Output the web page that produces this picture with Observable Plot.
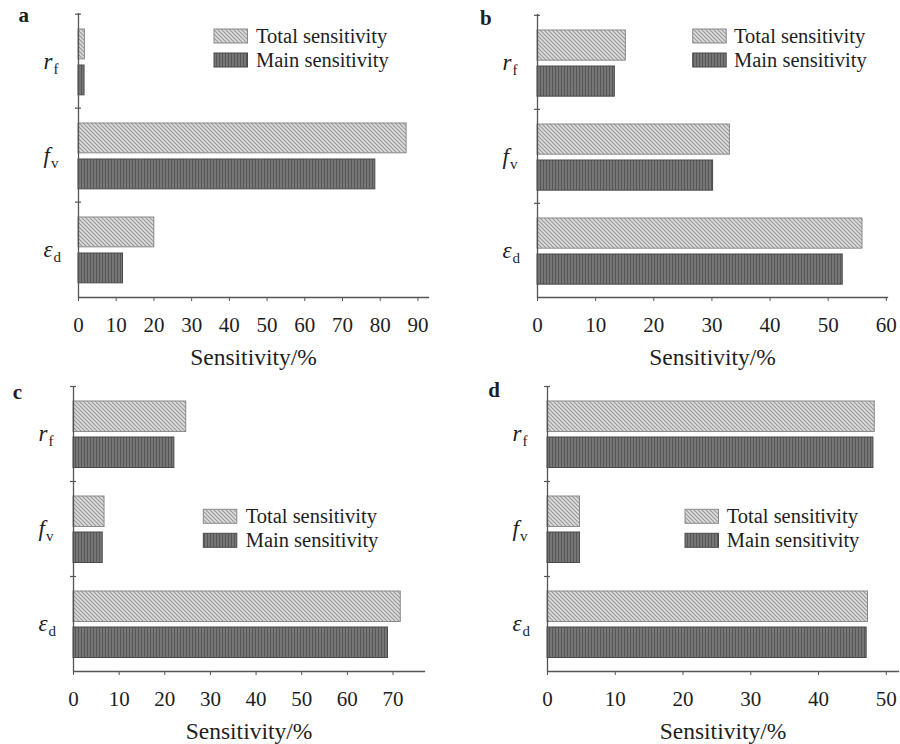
<!DOCTYPE html>
<html><head><meta charset="utf-8">
<script src="https://cdn.jsdelivr.net/npm/d3@7"></script>
<script src="https://cdn.jsdelivr.net/npm/@observablehq/plot@0.6"></script>
<style>
body{margin:0;background:#fff;}
#wrap{position:relative;width:900px;height:744px;overflow:hidden;background:#fff;}
.panel{position:absolute;}
#overlay{position:absolute;left:0;top:0;pointer-events:none;}
</style></head><body>
<svg width="0" height="0" style="position:absolute">
<defs>
<pattern id="pTotal" patternUnits="userSpaceOnUse" width="4" height="4">
<rect width="4" height="4" fill="#dcdcdc"/>
<path d="M-1,-1 L5,5 M-1,3 L1,5 M3,-1 L5,1" stroke="#989898" stroke-width="1.1"/>
</pattern>
<pattern id="pMain" patternUnits="userSpaceOnUse" width="3" height="3">
<rect width="3" height="3" fill="#767676"/>
<rect x="0" y="0" width="1" height="3" fill="#575757"/>
</pattern>
</defs></svg>
<div id="wrap"></div>
<script>
// ---- data ----
const categories = ["rf", "fv", "εd"];
const catSymbol = ["r", "f", "ε"];
const catSub = ["f", "v", "d"];
const seriesNames = ["Total sensitivity", "Main sensitivity"];
const panelLetters = ["a", "b", "c", "d"];
const axisTitle = "Sensitivity/%";

const totalA = [1.7, 87.0, 20.1];
const mainA  = [1.6, 78.7, 11.8];
const totalB = [15.2, 33.1, 55.9];
const mainB  = [13.3, 30.2, 52.5];
const totalC = [24.7, 6.8, 71.7];
const mainC  = [22.1, 6.4, 68.9];
const totalD = [48.3, 4.8, 47.3];
const mainD  = [48.1, 4.8, 47.1];

const ticksA = [0, 10, 20, 30, 40, 50, 60, 70, 80, 90];
const ticksB = [0, 10, 20, 30, 40, 50, 60];
const ticksC = [0, 10, 20, 30, 40, 50, 60, 70];
const ticksD = [0, 10, 20, 30, 40, 50];

// ---- layout ----
const panels = [
  {total: totalA, main: mainA, ticks: ticksA, xMax: 92.8, left: 0, top: 0, width: 450, height: 370, ml: 78, mr: 22, mt: 13, mb: 73,
   legend: {x: 214, y: 29, tx: 256}, letter: {x: 18.5, y: 22}},
  {total: totalB, main: mainB, ticks: ticksB, xMax: 60.2, left: 450, top: 0, width: 450, height: 370, ml: 87, mr: 13, mt: 14, mb: 73,
   legend: {x: 692.7, y: 29, tx: 734}, letter: {x: 480, y: 25}},
  {total: totalC, main: mainC, ticks: ticksC, xMax: 76.9, left: 0, top: 370, width: 450, height: 374, ml: 73, mr: 26, mt: 16, mb: 73,
   legend: {x: 203.3, y: 509.3, tx: 245.7}, letter: {x: 12.7, y: 399}},
  {total: totalD, main: mainD, ticks: ticksD, xMax: 51.8, left: 450, top: 370, width: 450, height: 374, ml: 97, mr: 2, mt: 16, mb: 73,
   legend: {x: 685, y: 509.3, tx: 726.7}, letter: {x: 488.3, y: 396.5}}
];

const font = "'Liberation Serif', 'Times New Roman', serif";
const wrap = document.getElementById("wrap");

panels.forEach((P) => {
  const bw = (P.height - P.mt - P.mb) / categories.length;
  const totalRows = categories.map((c, i) => ({cat: c, v: P.total[i]}));
  const mainRows = categories.map((c, i) => ({cat: c, v: P.main[i]}));
  const svg = Plot.plot({
    width: P.width, height: P.height,
    marginLeft: P.ml, marginRight: P.mr, marginTop: P.mt, marginBottom: P.mb,
    style: {fontFamily: font, fontSize: "21px", color: "#1e1e1e", background: "transparent"},
    x: {domain: [0, P.xMax]},
    y: {domain: categories, padding: 0},
    marks: [
      Plot.barX(totalRows, {x: "v", y: "cat", fill: "url(#pTotal)", stroke: "#8a8a8a", strokeWidth: 1,
        insetTop: 15, insetBottom: bw - 45.5}),
      Plot.barX(mainRows, {x: "v", y: "cat", fill: "url(#pMain)", stroke: "#4a4a4a", strokeWidth: 1,
        insetTop: 51, insetBottom: bw - 81.5}),
      Plot.ruleX([0], {stroke: "#555", strokeWidth: 1.3}),
      Plot.ruleY(categories, {y: (d) => d, x1: 0, x2: 0, dy: -bw / 2, insetLeft: -3, insetRight: -3, stroke: "#555", strokeWidth: 1.2}),
      Plot.frame({anchor: "bottom", stroke: "#555", strokeWidth: 1.3}),
      Plot.axisX({ticks: P.ticks, tickSize: 4, tickPadding: 16, stroke: "#555", fontSize: 21,
        label: axisTitle, labelAnchor: "center", labelArrow: "none", labelOffset: 67}),
      Plot.axisY({tickSize: 0, tickPadding: 35, textAnchor: "start", fontSize: 22, label: null})
    ]
  });
  // larger axis title, as in the reference
  d3.select(svg).selectAll('g[aria-label="x-axis label"] text').attr("font-size", 23.5);
  // subscripted italic parameter symbols
  d3.select(svg).selectAll('g[aria-label="y-axis tick label"] text').each(function () {
    const idx = categories.indexOf(this.textContent);
    if (idx < 0) return;
    const t = d3.select(this);
    t.text(null);
    t.append("tspan").attr("font-style", "italic").attr("font-size", 23).text(catSymbol[idx]);
    t.append("tspan").attr("font-size", 15).attr("dy", 5).attr("dx", 1).text(catSub[idx]);
  });
  const div = document.createElement("div");
  div.className = "panel";
  div.style.left = P.left + "px";
  div.style.top = P.top + "px";
  div.appendChild(svg);
  wrap.appendChild(div);
});

// overlay: panel letters and legends
const ov = d3.select(wrap).append("svg").attr("id", "overlay").attr("width", 900).attr("height", 744)
  .style("font-family", font);
panels.forEach((P, k) => {
  ov.append("text").attr("x", P.letter.x).attr("y", P.letter.y).attr("font-weight", "bold")
    .attr("font-size", 21).attr("fill", "#1e1e1e").text(panelLetters[k]);
  seriesNames.forEach((name, j) => {
    const y = P.legend.y + j * 24;
    ov.append("rect").attr("x", P.legend.x).attr("y", y).attr("width", 33.5).attr("height", 14)
      .attr("fill", j === 0 ? "url(#pTotal)" : "url(#pMain)")
      .attr("stroke", j === 0 ? "#8a8a8a" : "#4a4a4a").attr("stroke-width", 1);
    ov.append("text").attr("x", P.legend.tx).attr("y", y + 14).attr("font-size", 20.5)
      .attr("fill", "#1e1e1e").text(name);
  });
});
</script>
</body></html>
